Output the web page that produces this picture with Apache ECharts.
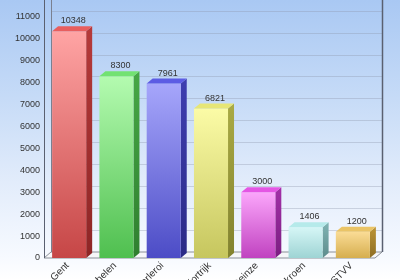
<!DOCTYPE html>
<html>
<head>
<meta charset="utf-8">
<script src="https://cdn.jsdelivr.net/npm/echarts@6/dist/echarts.min.js"></script>
<style>
html,body{margin:0;padding:0;}
#c{width:400px;height:280px;background:linear-gradient(to bottom,#a9c8f3 0%,#c6dbf7 35%,#e2ecfb 65%,#f7faff 92%,#ffffff 100%);}
</style>
</head>
<body>
<div id="c"></div>
<script>
const categories = ['Gent', 'Mechelen', 'Charleroi', 'Kortrijk', 'Deinze', 'Moeskroen', 'STVV'];
const values = [10348, 8300, 7961, 6821, 3000, 1406, 1200];
const yMin = 0, yMax = 11000, yStep = 1000;

const palette = [
  {f1:'#ffa4a4', f2:'#c64646', s1:'#b63a3a', s2:'#8e2626', t:'#e85e5e'},
  {f1:'#b4fbb0', f2:'#4fbf4f', s1:'#46a846', s2:'#2f7f2f', t:'#72e272'},
  {f1:'#a6a6fb', f2:'#4c4cc6', s1:'#3e3eb0', s2:'#2a2a86', t:'#5c5ce4'},
  {f1:'#fbfba6', f2:'#c6c65e', s1:'#aaaa44', s2:'#82822e', t:'#e6e676'},
  {f1:'#fba6fb', f2:'#c042c0', s1:'#a230a8', s2:'#7c1e82', t:'#e456e4'},
  {f1:'#d6f6f6', f2:'#9ed4d4', s1:'#80b4b4', s2:'#5e8c8c', t:'#b6eaea'},
  {f1:'#fadc96', f2:'#d6ae4e', s1:'#bc9436', s2:'#8e6e24', t:'#eac466'}
];

function lin(c1, c2){
  return {type:'linear', x:0, y:0, x2:0, y2:1, colorStops:[{offset:0,color:c1},{offset:1,color:c2}]};
}

function renderItem(params, api){
  const i = api.value(0), v = api.value(1);
  const top = api.coord([i, v]);
  const base = api.coord([i, 0]);
  const w = api.size([1, 0])[0] * 0.72;
  const x0 = top[0] - w / 2 + 1.5, x1 = x0 + w;
  const yT = top[1], yB = base[1];
  const dx = 6, dy = 5;
  const c = palette[i];
  return {type:'group', children:[
    {type:'polygon', shape:{points:[[x1,yT],[x1+dx,yT-dy],[x1+dx,yB-dy],[x1,yB]]}, style:{fill:lin(c.s1,c.s2)}},
    {type:'rect', shape:{x:x0, y:yT, width:w, height:yB-yT}, style:{fill:lin(c.f1,c.f2)}},
    {type:'polygon', shape:{points:[[x0,yT],[x0+dx,yT-dy],[x1+dx,yT-dy],[x1,yT]]}, style:{fill:c.t}},
    {type:'text', style:{text:String(v), x:x0 + w/2 + 4, y:yT - dy - 1, align:'center', verticalAlign:'bottom', fill:'#333', font:'9px "Liberation Sans", Arial, sans-serif'}}
  ]};
}

const chart = echarts.init(document.getElementById('c'), null, {renderer:'canvas'});
chart.setOption({
  animation:false,
  grid:[
    {left:44, right:25, top:17, bottom:22, containLabel:false, outerBoundsMode:'none'},
    {left:51, right:18, top:11, bottom:28, containLabel:false, outerBoundsMode:'none'}
  ],
  xAxis:[
    {type:'category', gridIndex:0, data:categories, boundaryGap:true,
     axisLine:{show:false}, axisTick:{show:false},
     axisLabel:{interval:0, rotate:45, margin:6, color:'#333', fontSize:10, fontFamily:'Liberation Sans, Arial, sans-serif'}},
    {type:'value', gridIndex:1, min:0, max:1, show:false}
  ],
  yAxis:[
    {type:'value', gridIndex:0, min:yMin, max:yMax, interval:yStep,
     axisLine:{show:false}, axisTick:{show:false}, splitLine:{show:false},
     axisLabel:{margin:4, color:'#333', fontSize:9, fontFamily:'Liberation Sans, Arial, sans-serif', formatter:(v) => String(v)}},
    {type:'value', gridIndex:1, min:yMin, max:yMax, interval:yStep,
     axisLine:{show:false}, axisTick:{show:false}, axisLabel:{show:false},
     splitLine:{show:true, lineStyle:{color:'rgba(140,150,170,0.35)', width:1}}}
  ],
  graphic:[
    {type:'polygon', z:1, shape:{points:[[44,258],[51,252],[382,252],[375,258]]}, style:{fill:'#f6f7f9', stroke:'#8a8f98', lineWidth:1}},
    {type:'line', z:1, shape:{x1:44.5, y1:0, x2:44.5, y2:258}, style:{stroke:'#5a6070', lineWidth:1}},
    {type:'line', z:1, shape:{x1:51.5, y1:0, x2:51.5, y2:252}, style:{stroke:'#7a8090', lineWidth:1}},
    {type:'line', z:1, shape:{x1:382.5, y1:0, x2:382.5, y2:252}, style:{stroke:'#5a6070', lineWidth:1.5}}
  ],
  series:[{
    type:'custom', xAxisIndex:0, yAxisIndex:0, z:5,
    renderItem:renderItem,
    data:categories.map((c, i) => [i, values[i]])
  }]
});
</script>
</body>
</html>
